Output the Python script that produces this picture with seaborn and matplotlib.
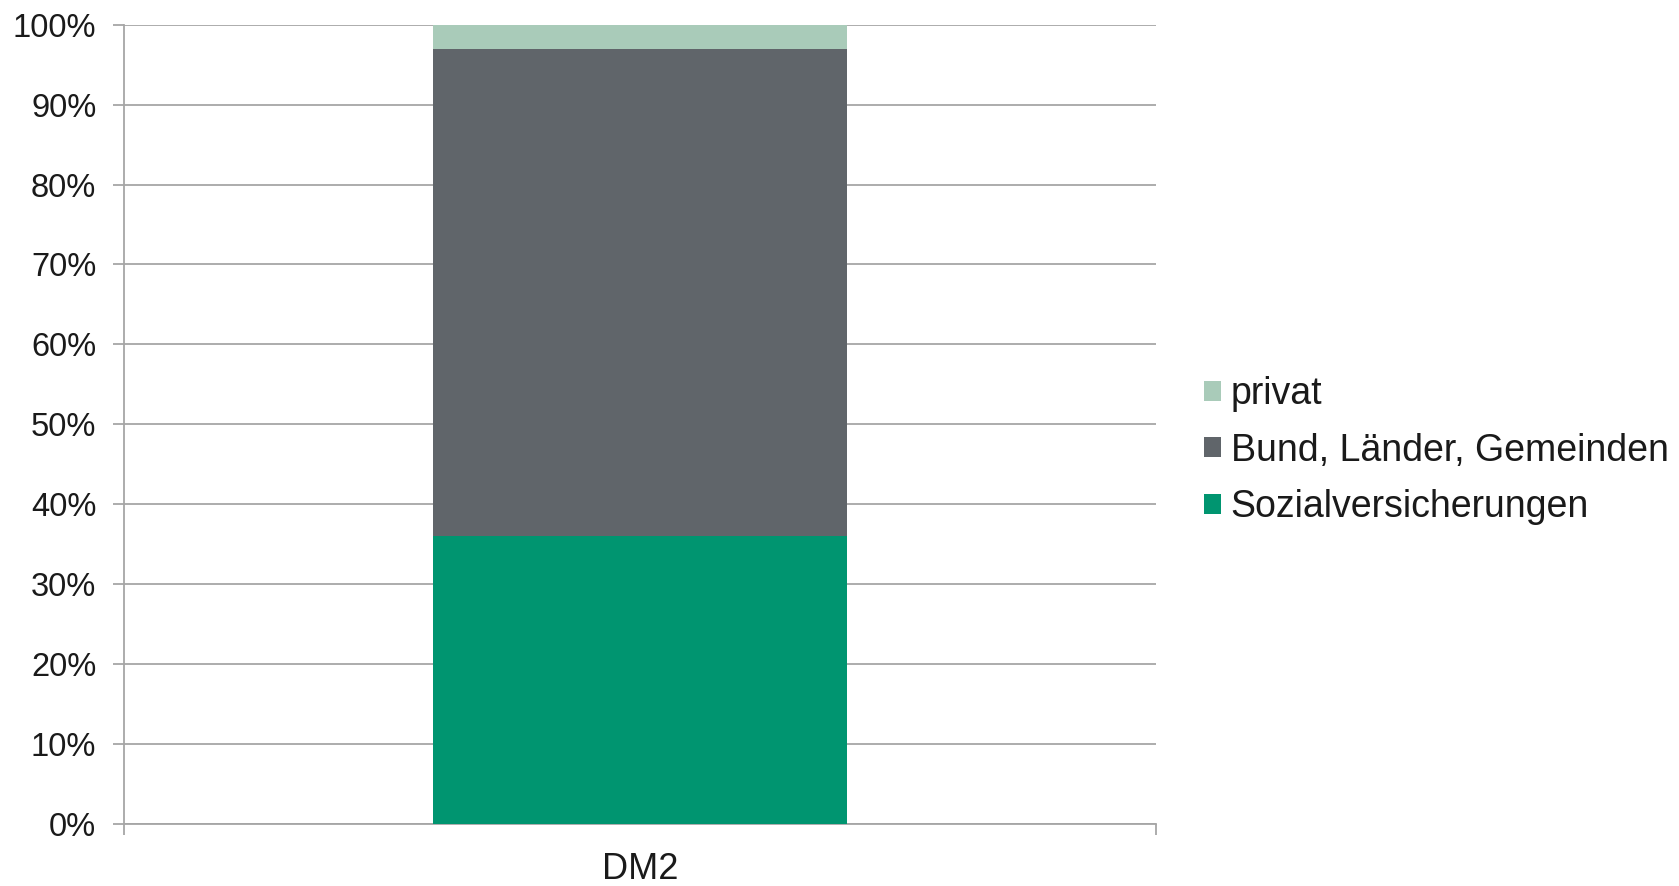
import matplotlib
matplotlib.use("Agg")
import matplotlib.pyplot as plt
import seaborn as sns
import pandas as pd
import numpy as np
from matplotlib.patches import Patch
from matplotlib.ticker import FixedLocator, PercentFormatter

categories = ["DM2"]
series_names = ["Sozialversicherungen", "Bund, Länder, Gemeinden", "privat"]
sozial = [36]
bund = [61]
privat = [3]
colors = ["#009570", "#60656A", "#A9CBB9"]
yticks = [0, 10, 20, 30, 40, 50, 60, 70, 80, 90, 100]

sns.set_theme(style="white")
plt.rcParams['font.family'] = ['Liberation Sans', 'DejaVu Sans']

fig = plt.figure(figsize=(16.79, 8.86), dpi=100)
ax = fig.add_axes([0.0739, 0.0700, 0.6146, 0.9022])

values = [sozial, bund, privat]
cum = np.cumsum(np.array(values), axis=0)
# draw from top (largest cumulative) down
for i in range(len(series_names) - 1, -1, -1):
    df = pd.DataFrame({"cat": categories, "val": cum[i]})
    sns.barplot(data=df, x="cat", y="val", color=colors[i], width=0.402,
                saturation=1, ax=ax, zorder=3, linewidth=0)

ax.set_xlim(-0.5, 0.5)
ax.set_ylim(0, 100)
ax.set_yticks(yticks)
ax.yaxis.set_major_formatter(PercentFormatter(decimals=0))
ax.set_xlabel("")
ax.set_ylabel("")

ax.grid(axis="y", color="#A6A6A6", linewidth=1.3, zorder=0)
ax.grid(axis="x", visible=False)
for s in ["top", "right"]:
    ax.spines[s].set_visible(False)
ax.spines["left"].set_color("#A6A6A6")
ax.spines["left"].set_linewidth(1.3)
ax.spines["bottom"].set_color("#A6A6A6")
ax.spines["bottom"].set_linewidth(1.3)
ax.set_axisbelow(True)

ax.tick_params(axis="y", which="major", length=8, width=1.3, color="#A6A6A6",
               labelsize=23.5, pad=12, labelcolor="#1a1a1a", left=True, direction="out")
ax.tick_params(axis="x", which="major", length=0, labelsize=26, pad=20,
               labelcolor="#1a1a1a")
ax.xaxis.set_minor_locator(FixedLocator([-0.5, 0.5]))
ax.tick_params(axis="x", which="minor", length=8, width=1.3, color="#A6A6A6",
               bottom=True, direction="out")

handles = [Patch(facecolor=colors[i], edgecolor="none", label=series_names[i])
           for i in range(len(series_names) - 1, -1, -1)]
fig.legend(handles=handles, loc="center left", bbox_to_anchor=(0.708, 0.4914),
           frameon=False, fontsize=27, handlelength=0.47, handleheight=0.45,
           handletextpad=0.25, labelspacing=0.55, borderaxespad=0,
           labelcolor="#1a1a1a")

fig.savefig("out.png", dpi=100, facecolor="white")
